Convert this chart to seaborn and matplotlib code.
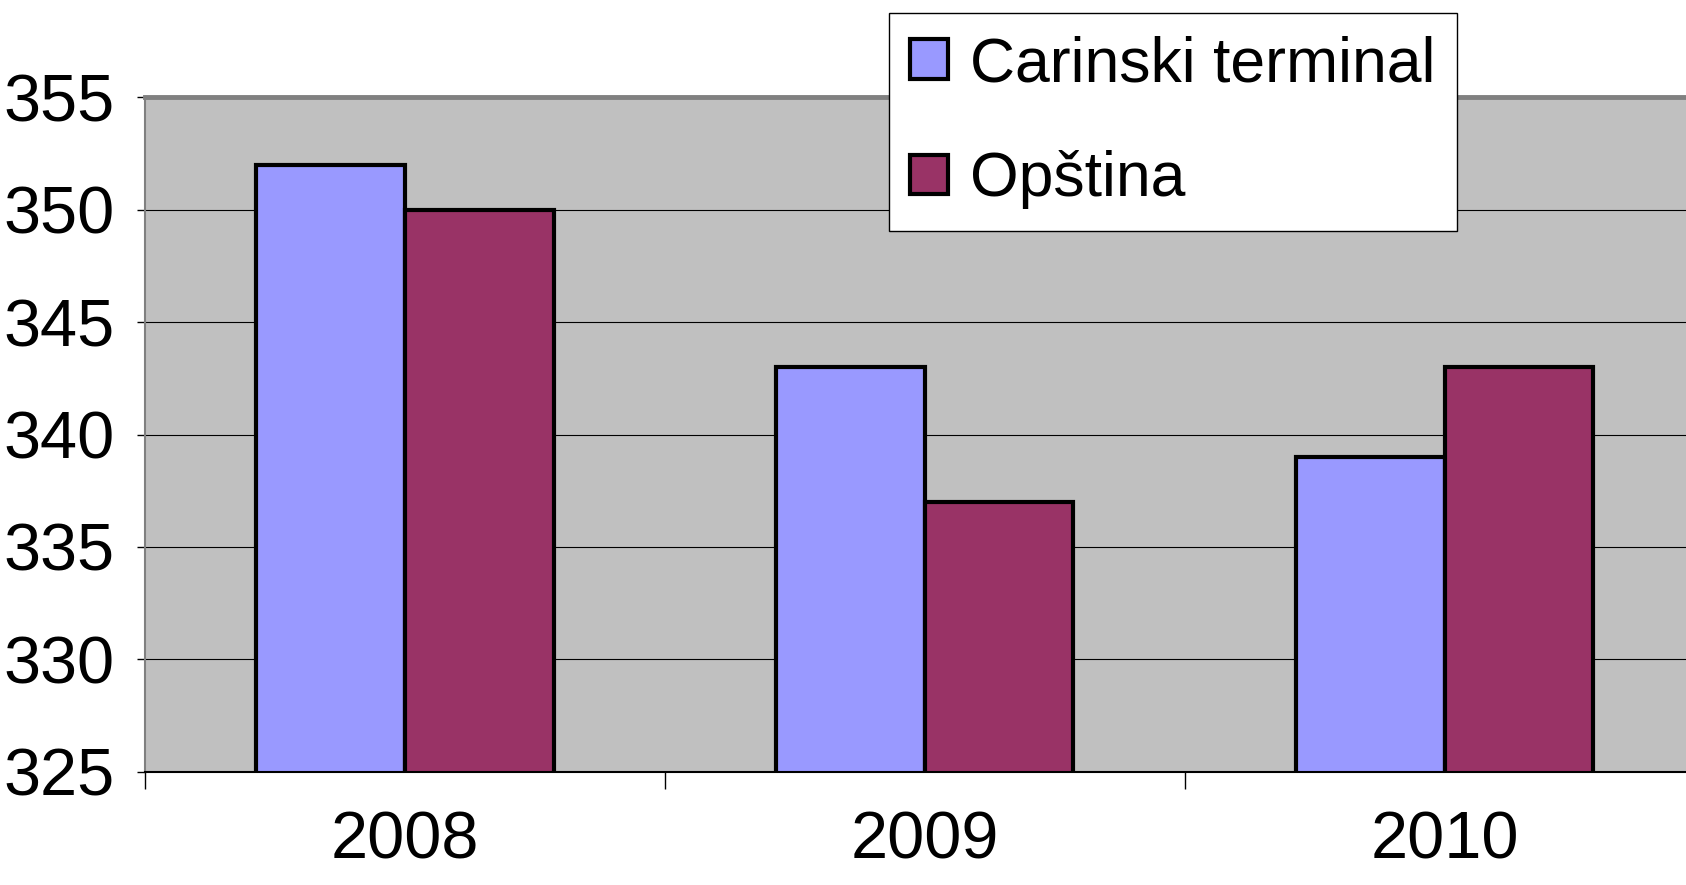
import pandas as pd
import matplotlib.pyplot as plt
import seaborn as sns
from matplotlib.patches import Patch

# -------------------------------
# Data
# -------------------------------
years = ["2008", "2009", "2010"]
carinski = [352, 343, 339]
opstina = [350, 337, 343]
series = ["Carinski terminal", "Opština"]
colors = ["#9999FF", "#993366"]

df = pd.DataFrame({
    "Godina": years * 2,
    "Vrijednost": carinski + opstina,
    "Serija": [series[0]] * 3 + [series[1]] * 3,
})

# -------------------------------
# Style
# -------------------------------
sns.set_style("white", {"text.color": "black", "xtick.color": "black",
                        "ytick.color": "black", "axes.labelcolor": "black"})
plt.rcParams["font.family"] = ["Liberation Sans Narrow", "Liberation Sans", "DejaVu Sans"]

fig = plt.figure(figsize=(16.86, 8.85), dpi=100)
ax = fig.add_axes([0.086, 0.128, 0.925, 0.762])
ax.set_facecolor("#C0C0C0")

ax.grid(axis="y", color="black", linewidth=0.8)
ax.set_axisbelow(True)

sns.barplot(data=df, x="Godina", y="Vrijednost", hue="Serija",
            palette=colors, saturation=1, width=0.572,
            edgecolor="black", linewidth=3, ax=ax, legend=False)

ax.set_ylim(325, 355)
ax.set_xlim(-0.5, 2.5)
ax.set_yticks(range(325, 356, 5))
ax.set_xlabel("")
ax.set_ylabel("")

# category ticks at boundaries, labels at centres
ax.set_xticks([-0.5, 0.5, 1.5, 2.5])
ax.set_xticklabels([])
ax.set_xticks([0, 1, 2], minor=True)
ax.set_xticklabels(years, minor=True)
ax.tick_params(axis="x", which="major", direction="out", length=12,
               width=1, color="black", bottom=True)
ax.tick_params(axis="x", which="minor", length=0, pad=28, labelsize=48,
               labelcolor="black")
ax.tick_params(axis="y", direction="out", length=6, width=1,
               color="black", left=True, pad=16, labelsize=48,
               labelcolor="black")

for s in ["top", "left"]:
    ax.spines[s].set_color("#808080")
ax.spines["top"].set_linewidth(3.5)
ax.spines["left"].set_linewidth(1.5)
ax.spines["bottom"].set_color("black")
ax.spines["bottom"].set_linewidth(1.5)
ax.spines["right"].set_visible(False)

# -------------------------------
# Legend
# -------------------------------
handles = [Patch(facecolor=c, edgecolor="black", linewidth=3) for c in colors]
leg = fig.legend(handles, series, loc="upper left",
                 bbox_to_anchor=(0.527, 0.985), bbox_transform=fig.transFigure,
                 fontsize=45, frameon=True, fancybox=False, framealpha=1,
                 edgecolor="black", handlelength=0.6, handleheight=0.6,
                 handletextpad=0.35, labelspacing=0.9, borderpad=0.35,
                 borderaxespad=0)
leg.get_frame().set_linewidth(1)
for t in leg.get_texts():
    t.set_color("black")

fig.savefig("out.png", dpi=100)
